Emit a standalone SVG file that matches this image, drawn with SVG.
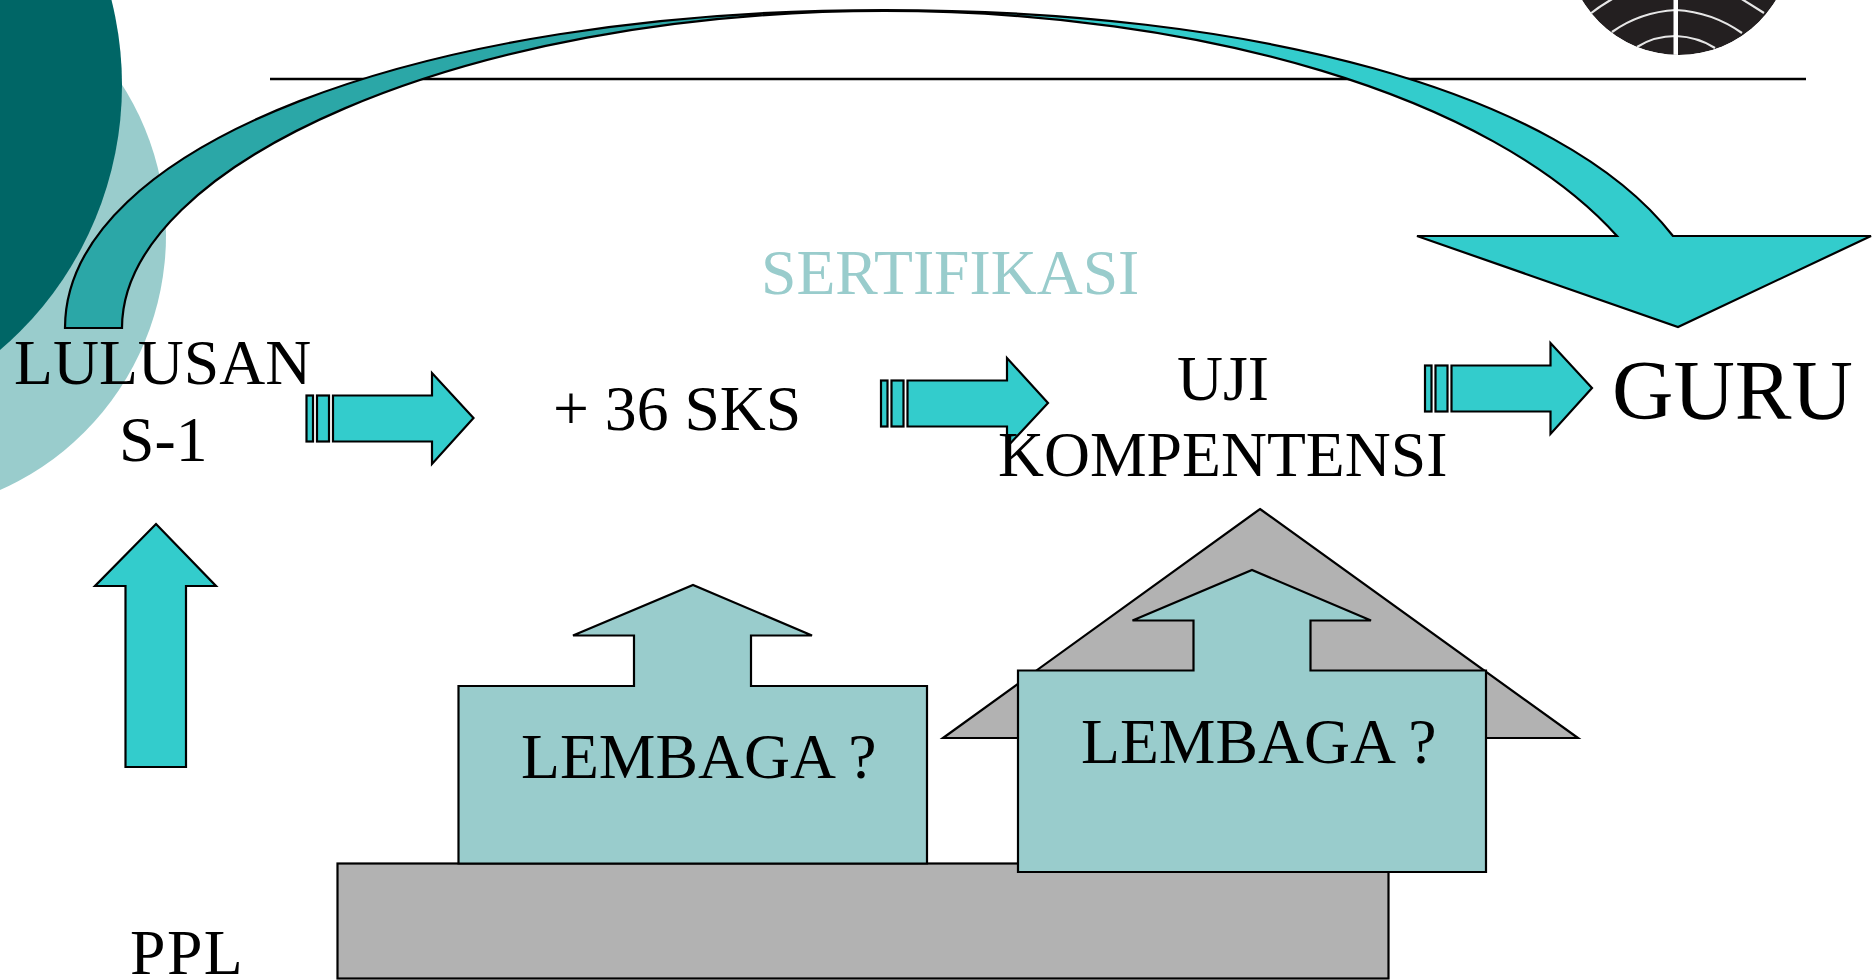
<svg xmlns="http://www.w3.org/2000/svg" width="1872" height="980" viewBox="0 0 1872 980">
<style>
text{font-family:"Liberation Serif","Times New Roman",serif;fill:#000;font-size:63.7px}
.o{stroke:#000;stroke-width:2.2;stroke-linejoin:miter}
.teal{fill:#33cccc}
.pale{fill:#99cccc}
.grey{fill:#b2b2b2}
.lg{fill:none;stroke:#e6e6e6;stroke-width:2.2}
</style>
<defs>
<clipPath id="logoClip"><circle cx="1679" cy="-58" r="113"/></clipPath>
</defs>
<rect width="1872" height="980" fill="#fff"/>
<g id="backdrop">
<circle cx="-113" cy="235" r="279" fill="#99cccc"/>
<circle cx="-227" cy="85" r="349" fill="#006666"/>
<line x1="270" y1="79" x2="1806" y2="79" stroke="#000" stroke-width="2.6"/>
</g>
<g id="logo" clip-path="url(#logoClip)">
<circle cx="1679" cy="-58" r="113" fill="#231f20"/>
<path class="lg" d="M1612 32Q1640 12 1676 10Q1712 12 1742 33M1637 47Q1654 36 1676 36Q1698 37 1715 48M1590 14Q1600 6 1614 -2M1764 13Q1753 6 1740 -2"/>
<rect x="1673.5" y="-10" width="4.5" height="70" fill="#fff"/>
</g>
<g id="platform"><rect class="o grey" x="337.500" y="863.500" width="1051" height="115"/></g>
<g id="lembaga-1">
<polygon class="o pale" points="458.500,686 634,686 634,635.500 573,635.500 693,585 812,635.500 751,635.500 751,686 927,686 927,863.500 458.500,863.500"/>
<text x="521" y="778">LEMBAGA ?</text>
</g>
<g id="roof"><polygon class="o grey" points="1260,509 1578,738 943,738"/></g>
<g id="lembaga-2">
<polygon class="o pale" points="1018,670.500 1193.500,670.500 1193.500,620.500 1132.500,620.500 1252,570 1371,620.500 1310.500,620.500 1310.500,670.500 1486,670.500 1486,872 1018,872"/>
<text x="1081" y="763">LEMBAGA ?</text>
</g>
<g id="connectors">
<g id="curved-arrow">
<path fill="#2ba7a7" d="M65 328C65 147 417 10 884 10C462 11 122 165 122 328Z"/>
<path class="teal" d="M884 10C1250 10 1560 90 1673 236H1871L1678 327L1417 236H1617C1490 95 1200 11 884 10Z"/>
<path class="o" fill="none" d="M65 328C65 147 417 10 884 10C1250 10 1560 90 1673 236H1871L1678 327L1417 236H1617C1490 95 1200 11 884 11C462 11 122 165 122 328Z"/>
</g>
<g id="arrow-ppl"><polygon class="o teal" points="156,524 216,586 186,586 186,767 125.500,767 125.500,586 95,586"/></g>
<g id="arrow-1" class="o teal">
<rect x="306.500" y="395.500" width="6.500" height="46"/><rect x="317" y="395.500" width="12" height="46"/>
<polygon points="333,395.500 432,395.500 432,373 473.500,418 432,464 432,441.500 333,441.500"/>
</g>
<g id="arrow-2" class="o teal">
<rect x="881" y="380.500" width="6.500" height="46"/><rect x="891.500" y="380.500" width="12" height="46"/>
<polygon points="907.500,380.500 1007,380.500 1007,358 1048,403 1007,447 1007,426.500 907.500,426.500"/>
</g>
<g id="arrow-3" class="o teal">
<rect x="1425" y="365.500" width="6.500" height="46"/><rect x="1435.500" y="365.500" width="12" height="46"/>
<polygon points="1451.500,365.500 1550.500,365.500 1550.500,343 1592,388 1550.500,434 1550.500,411.500 1451.500,411.500"/>
</g>
</g>
<g id="label-sertifikasi"><text x="761" y="294" style="fill:#99cccc">SERTIFIKASI</text></g>
<g id="label-lulusan"><text x="14" y="384">LULUSAN</text><text x="119" y="461">S-1</text></g>
<g id="label-sks"><text x="553" y="430">+ 36 SKS</text></g>
<g id="label-uji"><text x="1177" y="400">UJI</text><text x="998" y="476">KOMPENTENSI</text></g>
<g id="label-guru"><text x="1612" y="419" style="font-size:85px">GURU</text></g>
<g id="label-ppl"><text x="130" y="974" style="letter-spacing:1.5px">PPL</text></g>
</svg>
